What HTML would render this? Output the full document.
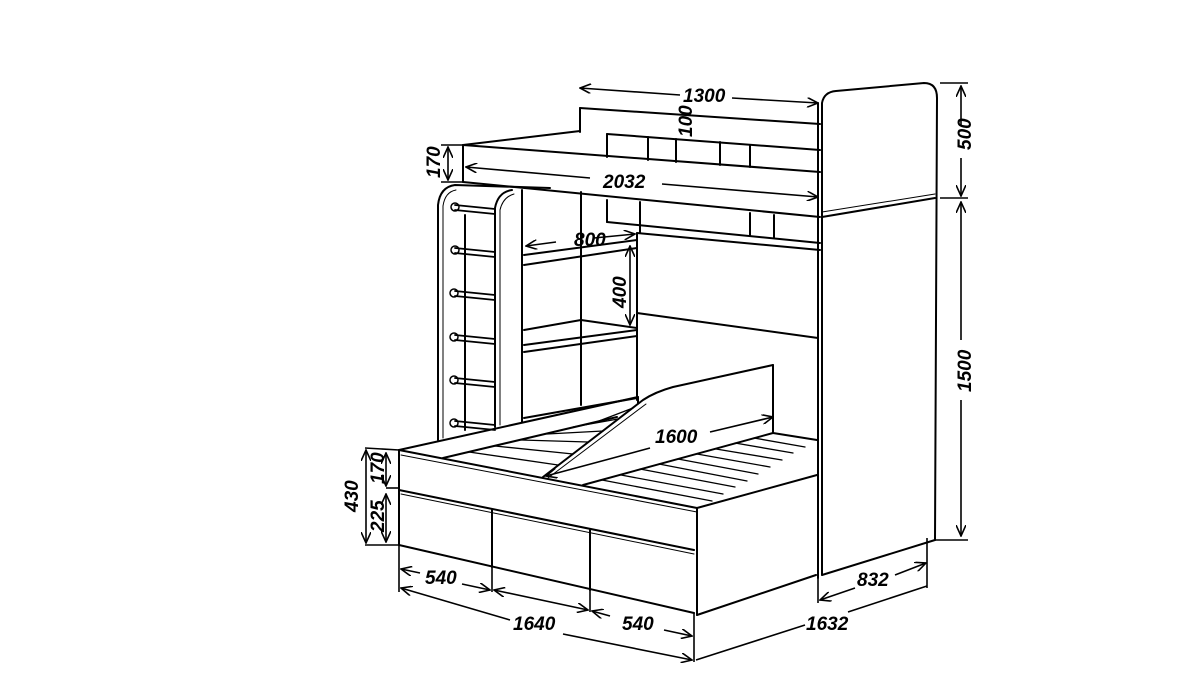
<!DOCTYPE html>
<html><head><meta charset="utf-8"><style>
html,body{margin:0;padding:0;background:#fff;}
svg{display:block}
text{font-family:"Liberation Sans",sans-serif;font-weight:bold;font-style:italic;font-size:19px;fill:#000}
</style></head><body>
<svg width="1186" height="690" viewBox="0 0 1186 690" xmlns="http://www.w3.org/2000/svg">
<defs>
<marker id="a" markerWidth="12" markerHeight="10" refX="11" refY="5" orient="auto-start-reverse" markerUnits="userSpaceOnUse">
<path d="M0,0 L11,5 L0,10" fill="none" stroke="#000" stroke-width="1.6"/>
</marker>
</defs>
<g fill="none" stroke="#000" stroke-width="2" stroke-linecap="round" stroke-linejoin="round">
<!-- right cabinet -->
<path d="M822,575 L822,103 Q824,92 836,91 L924,83 Q937,83 937,98 L935,540"/>
<line x1="818" y1="103" x2="818" y2="578"/>
<path d="M822,217 L935,198"/>
<path d="M822,212 L935,194" stroke-width="1"/>
<line x1="822" y1="575" x2="935" y2="540"/>
<!-- upper bed -->
<line x1="580" y1="108" x2="820" y2="124"/>
<line x1="580" y1="108" x2="580" y2="132"/>
<line x1="463" y1="145" x2="580" y2="131"/>
<line x1="463" y1="145" x2="820" y2="172"/>
<line x1="463" y1="182" x2="820" y2="217"/>
<line x1="463" y1="145" x2="463" y2="182"/>
<line x1="607" y1="134" x2="820" y2="150"/>
<line x1="607" y1="134" x2="607" y2="157"/>
<line x1="648" y1="137" x2="648" y2="160"/>
<line x1="676" y1="139" x2="676" y2="162"/>
<line x1="720" y1="142" x2="720" y2="165"/>
<line x1="750" y1="145" x2="750" y2="167"/>
<!-- under upper bed -->
<line x1="607" y1="200" x2="607" y2="222"/>
<line x1="640" y1="202" x2="640" y2="233"/>
<line x1="607" y1="222" x2="820" y2="243"/>
<line x1="637" y1="233" x2="820" y2="250"/>
<line x1="750" y1="213" x2="750" y2="236"/>
<line x1="774" y1="215" x2="774" y2="238"/>
<!-- ladder -->
<path d="M438,440 L438,205 Q440,187 455,185 L550,188"/>
<path d="M443,438 L443,206 Q445,192 456,190" stroke-width="1"/>
<line x1="465" y1="215" x2="465" y2="430"/>
<path d="M495,427 L495,208 Q498,192 512,190"/>
<path d="M500,425 L500,210 Q503,197 514,194" stroke-width="1"/>
<line x1="522" y1="190" x2="522" y2="422"/>
<g stroke-width="1.8">
<line x1="455" y1="205" x2="495" y2="209"/><line x1="455" y1="210" x2="495" y2="214"/>
<line x1="455" y1="248" x2="495" y2="252"/><line x1="455" y1="253" x2="495" y2="257"/>
<line x1="455" y1="291" x2="495" y2="295"/><line x1="455" y1="296" x2="495" y2="300"/>
<line x1="455" y1="335" x2="495" y2="339"/><line x1="455" y1="340" x2="495" y2="344"/>
<line x1="455" y1="378" x2="495" y2="382"/><line x1="455" y1="383" x2="495" y2="387"/>
<line x1="455" y1="421" x2="495" y2="425"/><line x1="455" y1="426" x2="495" y2="430"/>
</g>
<g stroke-width="1.5">
<circle cx="455" cy="207" r="4"/><circle cx="455" cy="250" r="4"/><circle cx="454" cy="293" r="4"/>
<circle cx="454" cy="337" r="4"/><circle cx="454" cy="380" r="4"/><circle cx="454" cy="423" r="4"/>
</g>
<!-- shelf unit -->
<line x1="581" y1="192" x2="581" y2="405"/>
<line x1="637" y1="233" x2="637" y2="400"/>
<line x1="524" y1="255" x2="637" y2="240"/>
<line x1="524" y1="265" x2="637" y2="248"/>
<line x1="524" y1="330" x2="581" y2="320"/>
<line x1="581" y1="320" x2="637" y2="328"/>
<line x1="524" y1="345" x2="637" y2="330"/>
<line x1="524" y1="352" x2="637" y2="336"/>
<line x1="524" y1="418" x2="637" y2="398"/>
<!-- lower back panel -->
<line x1="637" y1="313" x2="818" y2="338"/>
<!-- lower bed -->
<line x1="399" y1="450" x2="697" y2="508"/>
<line x1="401" y1="455" x2="697" y2="512" stroke-width="1"/>
<line x1="399" y1="450" x2="399" y2="545"/>
<line x1="697" y1="508" x2="697" y2="615"/>
<line x1="399" y1="490" x2="694" y2="550"/>
<line x1="401" y1="494" x2="694" y2="554" stroke-width="1"/>
<line x1="399" y1="545" x2="694" y2="613"/>
<line x1="492" y1="510" x2="492" y2="567"/>
<line x1="590" y1="530" x2="590" y2="590"/>
<line x1="697" y1="508" x2="817" y2="475"/>
<line x1="697" y1="615" x2="816" y2="575"/>
<line x1="399" y1="450" x2="638" y2="397"/>
<line x1="638" y1="397" x2="638" y2="403"/>
<path d="M543,477 L643,400 Q655,392 673,387 L773,365"/>
<path d="M548,478 L646,404" stroke-width="1"/>
<line x1="773" y1="365" x2="773" y2="433"/>
<line x1="773" y1="433" x2="817" y2="440"/>
<line x1="583" y1="485" x2="773" y2="433"/>
<line x1="443" y1="458" x2="617" y2="417"/>
<g stroke-width="1.3">
<line x1="602" y1="480" x2="712" y2="501"/>
<line x1="621" y1="475" x2="723" y2="494"/>
<line x1="640" y1="469" x2="735" y2="487"/>
<line x1="659" y1="464" x2="747" y2="481"/>
<line x1="678" y1="459" x2="758" y2="474"/>
<line x1="697" y1="454" x2="770" y2="467"/>
<line x1="716" y1="449" x2="782" y2="460"/>
<line x1="735" y1="443" x2="793" y2="453"/>
<line x1="754" y1="438" x2="805" y2="447"/>
<line x1="469" y1="452" x2="558" y2="465"/>
<line x1="495" y1="446" x2="573" y2="454"/>
<line x1="521" y1="440" x2="588" y2="442"/>
<line x1="547" y1="434" x2="603" y2="431"/>
<line x1="573" y1="427" x2="618" y2="419"/>
<line x1="599" y1="421" x2="633" y2="408"/>
</g>
</g>
<!-- dimensions -->
<g fill="none" stroke="#000" stroke-width="1.6">
<line x1="580" y1="88" x2="680" y2="95" marker-start="url(#a)"/>
<line x1="732" y1="98" x2="818" y2="103" marker-end="url(#a)"/>
<line x1="448" y1="147" x2="448" y2="180" marker-start="url(#a)" marker-end="url(#a)"/>
<line x1="441" y1="145" x2="463" y2="145"/>
<line x1="441" y1="182" x2="463" y2="182"/>
<line x1="466" y1="167" x2="590" y2="178" marker-start="url(#a)"/>
<line x1="662" y1="184" x2="818" y2="197" marker-end="url(#a)"/>
<line x1="961" y1="86" x2="961" y2="125" marker-start="url(#a)"/>
<line x1="961" y1="158" x2="961" y2="196" marker-end="url(#a)"/>
<line x1="940" y1="83" x2="968" y2="83"/>
<line x1="940" y1="198" x2="968" y2="198"/>
<line x1="961" y1="202" x2="961" y2="340" marker-start="url(#a)"/>
<line x1="961" y1="400" x2="961" y2="536" marker-end="url(#a)"/>
<line x1="935" y1="540" x2="968" y2="540"/>
<line x1="526" y1="246" x2="556" y2="242" marker-start="url(#a)"/>
<line x1="594" y1="238" x2="635" y2="234" marker-end="url(#a)"/>
<line x1="630" y1="246" x2="630" y2="325" marker-start="url(#a)" marker-end="url(#a)"/>
<line x1="546" y1="476" x2="650" y2="448" marker-start="url(#a)"/>
<line x1="710" y1="432" x2="773" y2="417" marker-end="url(#a)"/>
<line x1="365" y1="448" x2="399" y2="450"/>
<line x1="365" y1="545" x2="399" y2="545"/>
<line x1="366" y1="450" x2="366" y2="543" marker-start="url(#a)" marker-end="url(#a)"/>
<line x1="386" y1="453" x2="386" y2="486" marker-start="url(#a)" marker-end="url(#a)"/>
<line x1="386" y1="494" x2="386" y2="542" marker-start="url(#a)" marker-end="url(#a)"/>
<line x1="386" y1="488" x2="399" y2="488"/>
<line x1="399" y1="545" x2="399" y2="592"/>
<line x1="492" y1="567" x2="492" y2="592"/>
<line x1="590" y1="590" x2="590" y2="612"/>
<line x1="694" y1="613" x2="694" y2="662"/>
<line x1="401" y1="569" x2="420" y2="573" marker-start="url(#a)"/>
<line x1="462" y1="584" x2="490" y2="590" marker-end="url(#a)"/>
<line x1="401" y1="588" x2="510" y2="620" marker-start="url(#a)"/>
<line x1="563" y1="634" x2="692" y2="660" marker-end="url(#a)"/>
<line x1="494" y1="590" x2="588" y2="610" marker-start="url(#a)" marker-end="url(#a)"/>
<line x1="592" y1="611" x2="610" y2="616" marker-start="url(#a)"/>
<line x1="664" y1="630" x2="692" y2="636" marker-end="url(#a)"/>
<line x1="696" y1="660" x2="805" y2="625"/>
<line x1="848" y1="612" x2="927" y2="586"/>
<line x1="927" y1="538" x2="927" y2="588"/>
<line x1="818" y1="578" x2="818" y2="603"/>
<line x1="820" y1="600" x2="855" y2="588" marker-start="url(#a)"/>
<line x1="895" y1="575" x2="926" y2="563" marker-end="url(#a)"/>
</g>
<text x="683" y="102">1300</text>
<text x="603" y="188">2032</text>
<text x="574" y="246">800</text>
<text x="655" y="443">1600</text>
<text x="425" y="584">540</text>
<text x="513" y="630">1640</text>
<text x="622" y="630">540</text>
<text x="806" y="630">1632</text>
<text x="857" y="586">832</text>
<text transform="translate(440,178) rotate(-90)" font-size="17">170</text>
<text transform="translate(971,150) rotate(-90)">500</text>
<text transform="translate(971,392) rotate(-90)">1500</text>
<text transform="translate(626,308) rotate(-90)">400</text>
<text transform="translate(358,512) rotate(-90)">430</text>
<text transform="translate(384,484) rotate(-90)" font-size="14">170</text>
<text transform="translate(384,532) rotate(-90)" font-size="14">225</text>
<text transform="translate(692,137) rotate(-90)" font-size="12">100</text>
</svg>
</body></html>
